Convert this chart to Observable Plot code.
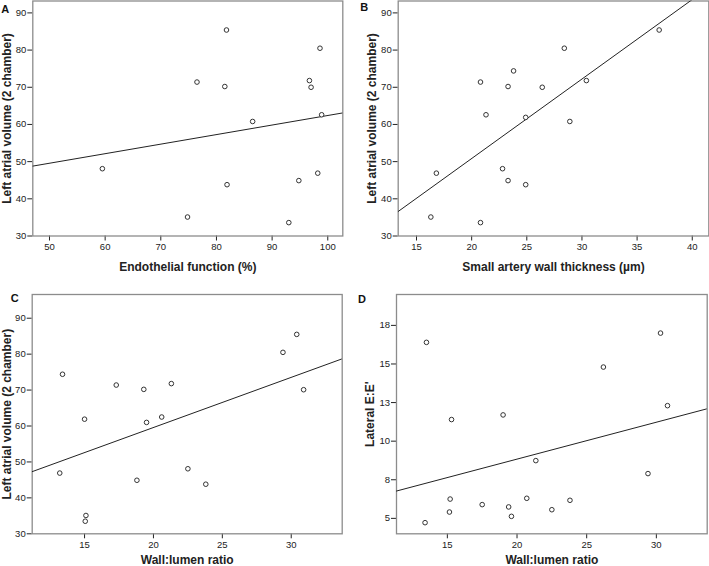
<!DOCTYPE html>
<html>
<head>
<meta charset="utf-8">
<script src="https://cdn.jsdelivr.net/npm/d3@7"></script>
<script src="https://cdn.jsdelivr.net/npm/@observablehq/plot@0.6"></script>
<style>
  html, body { margin: 0; padding: 0; background: #fff; }
  #chart { position: relative; width: 709px; height: 566px; overflow: hidden; background: #fff; }
  #chart > svg { position: absolute; }
</style>
</head>
<body>
<div id="chart"></div>
<script>
// ---- Panel A: Endothelial function vs LA volume
const aX = [81.8, 76.5, 81.5, 98.6, 96.7, 97.0, 86.5, 98.9, 59.5, 81.9, 98.2, 94.8, 74.8, 93.0];
const aY = [85.4, 71.4, 70.2, 80.5, 71.8, 70.0, 60.8, 62.6, 48.1, 43.8, 46.9, 44.9, 35.1, 33.6];
const aFit = [[47.0, 48.8], [102.7, 63.1]];
const aXTicks = [50, 60, 70, 80, 90, 100];

// ---- Panel B: Small artery wall thickness vs LA volume
const bX = [37.0, 28.4, 23.8, 20.8, 23.3, 26.4, 30.4, 21.3, 24.9, 28.9, 16.8, 22.8, 23.3, 24.9, 16.3, 20.8];
const bY = [85.4, 80.5, 74.4, 71.4, 70.2, 70.0, 71.8, 62.6, 61.9, 60.8, 46.9, 48.1, 44.9, 43.8, 35.1, 33.6];
const bFit = [[13.34, 36.6], [41.5, 96.8]];
const bXTicks = [15, 20, 25, 30, 35, 40];

// ---- Panel C: Wall:lumen ratio vs LA volume
const cX = [30.4, 29.4, 30.9, 13.4, 17.3, 19.3, 21.3, 15.0, 19.5, 20.6, 13.2, 18.8, 22.5, 23.8, 15.1, 15.05];
const cY = [85.5, 80.5, 70.1, 74.4, 71.4, 70.2, 71.8, 61.9, 61.0, 62.5, 46.9, 44.9, 48.1, 43.8, 35.1, 33.5];
const cFit = [[11.2, 47.3], [33.7, 78.7]];

// ---- Panel D: Wall:lumen ratio vs Lateral E:E'
const dX = [13.5, 30.3, 26.2, 30.8, 15.3, 19.0, 21.35, 29.4, 15.2, 20.7, 17.5, 19.4, 23.8, 22.5, 15.15, 19.6, 13.4];
const dY = [16.4, 17.0, 14.8, 12.3, 11.4, 11.7, 8.74, 7.9, 6.25, 6.3, 5.89, 5.74, 6.17, 5.56, 5.41, 5.13, 4.72];
const dFit = [[11.35, 6.77], [33.65, 12.1]];

const wlXTicks = [15, 20, 25, 30];
const laYTicks = [30, 40, 50, 60, 70, 80, 90];
const dYTicks = [5, 7.5, 10, 12.5, 15, 17.5];

const laLabel = "Left atrial volume (2 chamber)";

const panels = [
  { letter: "A", xs: aX, ys: aY, fit: aFit, xTicks: aXTicks, yTicks: laYTicks,
    xDomain: [47.0, 102.7], yDomain: [30, 93.2],
    xLabel: "Endothelial function (%)", yLabel: laLabel,
    left: 0, top: 0, width: 354, height: 280,
    mL: 32.3, mR: 11.7, mT: 0.5, mB: 44.5,
    yDx: -26, xDy: 31.5, letDx: -27.5, letDy: 8.5 },
  { letter: "B", xs: bX, ys: bY, fit: bFit, xTicks: bXTicks, yTicks: laYTicks,
    xDomain: [13.34, 41.5], yDomain: [30, 93.2],
    xLabel: "Small artery wall thickness (\u00b5m)", yLabel: laLabel,
    left: 354, top: 0, width: 355, height: 280,
    mL: 43.7, mR: 0.7, mT: 0.5, mB: 44.5,
    yDx: -26, xDy: 31.5, letDx: -34, letDy: 6.5 },
  { letter: "C", xs: cX, ys: cY, fit: cFit, xTicks: wlXTicks, yTicks: laYTicks,
    xDomain: [11.2, 33.7], yDomain: [30, 96.6],
    xLabel: "Wall:lumen ratio", yLabel: laLabel,
    left: 0, top: 280, width: 354, height: 286,
    mL: 31.7, mR: 12.3, mT: 14, mB: 32.7,
    yDx: -25, xDy: 26.5, letDx: -17.5, letDy: 3.5 },
  { letter: "D", xs: dX, ys: dY, fit: dFit, xTicks: wlXTicks, yTicks: dYTicks,
    xDomain: [11.35, 33.65], yDomain: [4.0, 19.5], yFormat: d => String(Math.round(d)),
    xLabel: "Wall:lumen ratio", yLabel: "Lateral E:E'",
    left: 354, top: 280, width: 355, height: 286,
    mL: 42, mR: 2.3, mT: 14, mB: 32.7,
    yDx: -26, xDy: 26.5, letDx: -34.5, letDy: 5 }
];

const chart = document.getElementById("chart");

for (const p of panels) {
  const pts = p.xs.map((x, i) => ({ x, y: p.ys[i] }));
  const svg = Plot.plot({
    width: p.width,
    height: p.height,
    marginLeft: p.mL, marginRight: p.mR, marginTop: p.mT, marginBottom: p.mB,
    style: { fontFamily: "'Liberation Sans', Arial, sans-serif", fontSize: "9.5px", color: "#222", background: "transparent", overflow: "visible" },
    x: { domain: p.xDomain, ticks: p.xTicks, tickSize: 5, tickPadding: 2, label: null },
    y: { domain: p.yDomain, ticks: p.yTicks, tickSize: 5, tickPadding: 1.5, label: null, tickFormat: p.yFormat },
    marks: [
      Plot.frame({ stroke: "#8c8c8c", strokeWidth: 1.3 }),
      Plot.line(p.fit, { x: d => d[0], y: d => d[1], stroke: "#222", strokeWidth: 1, clip: true }),
      Plot.dot(pts, { x: "x", y: "y", r: 2.3, stroke: "#333", strokeWidth: 1, fill: "white" }),
      Plot.text([p.xLabel], { text: d => d, frameAnchor: "bottom", dy: p.xDy, lineAnchor: "middle", textAnchor: "middle", fontWeight: "bold", fontSize: 12, fill: "#222" }),
      Plot.text([p.yLabel], { text: d => d, frameAnchor: "left", dx: p.yDx, rotate: -90, lineAnchor: "middle", textAnchor: "middle", fontWeight: "bold", fontSize: 12, fill: "#222" }),
      Plot.text([p.letter], { text: d => d, frameAnchor: "top-left", dx: p.letDx, dy: p.letDy, lineAnchor: "middle", textAnchor: "middle", fontWeight: "bold", fontSize: 11, fill: "#111" })
    ]
  });
  svg.style.left = p.left + "px";
  svg.style.top = p.top + "px";
  chart.appendChild(svg);
}
</script>
</body>
</html>
